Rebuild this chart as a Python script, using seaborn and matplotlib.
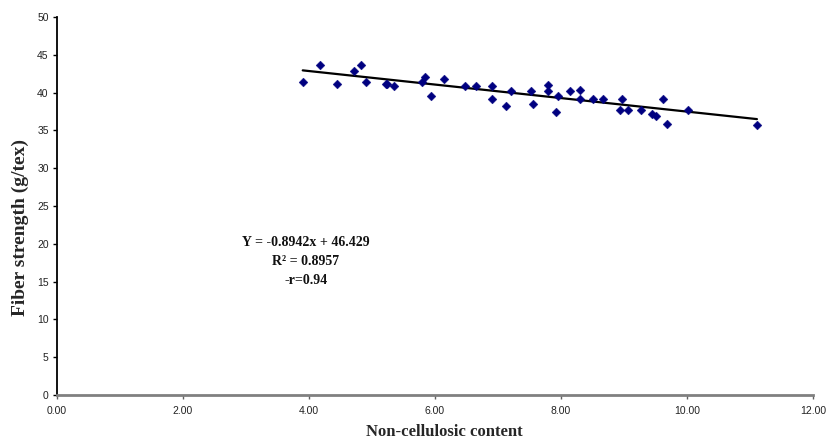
import matplotlib
matplotlib.use("Agg")
import matplotlib.pyplot as plt
import seaborn as sns
import numpy as np
import pandas as pd

# Data
non_cellulosic = [3.90, 4.18, 4.45, 4.72, 4.83, 4.91, 5.22, 5.24, 5.35, 5.80,
                  5.84, 5.93, 6.15, 6.47, 6.65, 6.91, 6.90, 7.12, 7.21, 7.52,
                  7.56, 7.80, 7.80, 7.92, 7.96, 8.14, 8.30, 8.30, 8.51, 8.66,
                  8.97, 8.94, 9.07, 9.27, 9.45, 9.51, 9.62, 9.68, 10.01, 11.11]
fiber_strength = [41.4, 43.7, 41.2, 42.9, 43.7, 41.4, 41.2, 41.1, 40.9, 41.4,
                  42.1, 39.5, 41.8, 40.9, 40.9, 40.9, 39.2, 38.2, 40.2, 40.2,
                  38.5, 41.0, 40.2, 37.4, 39.6, 40.2, 40.3, 39.2, 39.2, 39.1,
                  39.1, 37.7, 37.7, 37.7, 37.2, 36.9, 39.1, 35.8, 37.7, 35.7]
slope = -0.8942
intercept = 46.429
eq_lines = ["Y = -0.8942x + 46.429", "R² = 0.8957", "-r=0.94"]
x_ticks = [0, 2, 4, 6, 8, 10, 12]
y_ticks = [0, 5, 10, 15, 20, 25, 30, 35, 40, 45, 50]

df = pd.DataFrame({"x": non_cellulosic, "y": fiber_strength})
x_fit = np.array([min(non_cellulosic), max(non_cellulosic)])
fit_df = pd.DataFrame({"x": x_fit, "y": slope * x_fit + intercept})

sns.set_style("white")
serif = ["Liberation Serif", "DejaVu Serif"]
sans = ["Liberation Sans", "DejaVu Sans"]

fig = plt.figure(figsize=(8.29, 4.43), dpi=100)
ax = fig.add_axes([0.0688, 0.1084, 0.9119, 0.8532])

sns.lineplot(data=fit_df, x="x", y="y", ax=ax, color="black", linewidth=1.6)
sns.scatterplot(data=df, x="x", y="y", ax=ax, marker="D", s=20,
                color="#000080", edgecolor="#000080", linewidth=0.3, zorder=3)

ax.set_xlim(0, 12)
ax.set_ylim(0, 50)
ax.set_xticks(x_ticks)
ax.set_xticklabels([f"{v:.2f}" for v in x_ticks], fontfamily=sans, fontsize=7.5, color="#222222")
ax.set_yticks(y_ticks)
ax.set_yticklabels([str(v) for v in y_ticks], fontfamily=sans, fontsize=7.5, color="#222222")

ax.set_xlabel("Non-cellulosic content", fontfamily=serif, fontweight="bold", fontsize=12)
ax.set_ylabel("Fiber strength (g/tex)", fontfamily=serif, fontweight="bold", fontsize=14)
ax.xaxis.label.set_verticalalignment("center")
ax.yaxis.label.set_verticalalignment("center")
ax.xaxis.set_label_coords(0.512, -0.098)
ax.yaxis.set_label_coords(-0.049, 0.444)

for side in ["top", "right"]:
    ax.spines[side].set_visible(False)
ax.spines["left"].set_color("black")
ax.spines["left"].set_linewidth(1.3)
ax.spines["bottom"].set_color("#808080")
ax.spines["bottom"].set_linewidth(2.0)
ax.tick_params(axis="y", direction="out", length=3, width=1, color="black", pad=3, left=True)
ax.tick_params(axis="x", direction="out", length=3, width=1, color="#606060", pad=5, bottom=True)

ys = [20.2, 17.6, 15.2]
for txt, yy in zip(eq_lines, ys):
    ax.text(3.95, yy, txt, ha="center", va="center", fontfamily=serif,
            fontweight="bold", fontsize=10, color="#111111")

fig.savefig("out.png", dpi=100)
